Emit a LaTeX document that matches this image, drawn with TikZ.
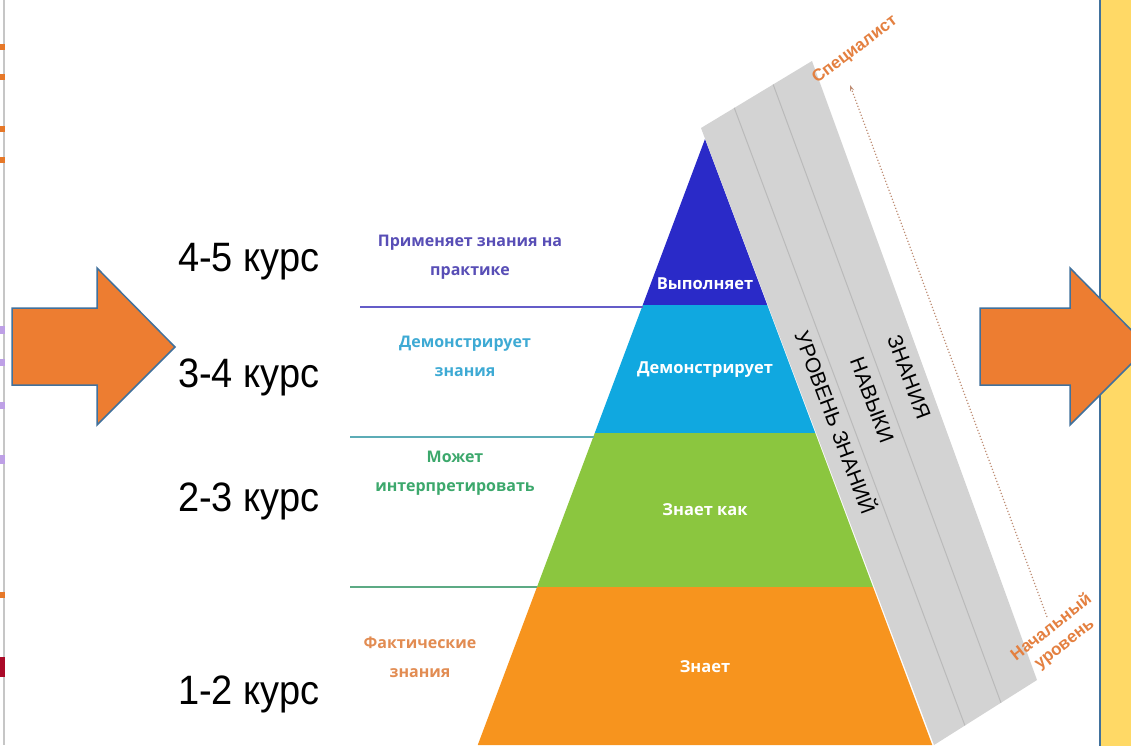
\documentclass[tikz,border=0pt]{standalone}
\usepackage{fontspec}
\setmainfont{Liberation Sans}
\newfontfamily\descfamily{Open Sans}
\usetikzlibrary{positioning, calc, arrows.meta}

\definecolor{arrorange}{RGB}{237,125,49}
\definecolor{arrblue}{RGB}{65,113,156}
\definecolor{panelyellow}{RGB}{255,217,102}
\definecolor{lvlfour}{RGB}{42,42,200}
\definecolor{lvlthree}{RGB}{16,168,224}
\definecolor{lvltwo}{RGB}{139,198,63}
\definecolor{lvlone}{RGB}{247,148,30}
\definecolor{bandgray}{RGB}{211,211,211}
\definecolor{bandline}{RGB}{186,186,186}
\definecolor{descpurple}{RGB}{88,78,182}
\definecolor{descblue}{RGB}{62,170,212}
\definecolor{descgreen}{RGB}{60,168,108}
\definecolor{descorange}{RGB}{226,140,82}
\definecolor{seppurple}{RGB}{100,92,200}
\definecolor{septeal}{RGB}{92,172,182}
\definecolor{sepgreen}{RGB}{92,170,132}
\definecolor{levelorange}{RGB}{228,128,64}
\definecolor{dotbrown}{RGB}{190,140,115}
\definecolor{markorange}{RGB}{230,120,40}
\definecolor{markpurple}{RGB}{190,160,230}
\definecolor{markred}{RGB}{170,10,40}

\begin{document}
\begin{tikzpicture}[x=1pt, y=-1pt,
    course/.style={anchor=base west, inner sep=0pt, yscale=1.08, font=\fontsize{38}{40}\selectfont},
    desc/.style={align=center, inner sep=0pt, font=\descfamily\bfseries\fontsize{16}{29}\selectfont},
    layerlbl/.style={text=white, inner sep=0pt, font=\descfamily\bfseries\fontsize{16.5}{18}\selectfont},
    bandlbl/.style={rotate=-69.4, inner sep=0pt, font=\fontsize{21}{22}\selectfont},
    levellbl/.style={text=levelorange, inner sep=0pt, align=center, font=\bfseries\fontsize{17}{21}\selectfont},
    bigarrow/.style={fill=arrorange, draw=arrblue, line width=1.5pt, line join=miter},
    sepline/.style={line width=1.3pt}]
  \useasboundingbox (0,0) rectangle (1131,745);
  \fill[white] (0,0) rectangle (1131,745);

  % slide edge with thumbnail marks
  \draw[gray!45, line width=1.5pt] (4,0) -- (4,745);
  \foreach \y/\h/\c in {44/6/markorange, 74/6/markorange, 126/6/markorange, 157/6/markorange,
      326/8/markpurple, 359/7/markpurple, 402/7/markpurple, 455/9/markpurple,
      592/6/markorange, 657/20/markred}
    \fill[\c] (0,\y) rectangle (5,\y+\h);

  % pyramid
  \foreach \ytop/\ybot/\col in {139/305/lvlfour, 305/433/lvlthree, 433/587/lvltwo, 587/745/lvlone}
    \fill[\col] ({705-0.375*(\ytop-139)},\ytop) -- ({705+0.375*(\ytop-139)},\ytop)
      -- ({705+0.375*(\ybot-139)},\ybot) -- ({705-0.375*(\ybot-139)},\ybot) -- cycle;
  \node[layerlbl] (vypoln) at (705,284) {Выполняет};
  \node[layerlbl] (demonstr) at (705,370) {Демонстрирует};
  \node[layerlbl] (znaetkak) at (705,510) {Знает как};
  \node[layerlbl] (znaet) at (705,667) {Знает};

  % separators and descriptions
  \draw[sepline, seppurple] (360,307) -- (643,307);
  \draw[sepline, septeal] (350,437) -- (594,437);
  \draw[sepline, sepgreen] (350,587) -- (537,587);
  \node[desc, text=descpurple] (primen) at (470,257) {Применяет знания на\\практике};
  \node[desc, text=descblue] (demznan) at (465,356) {Демонстрирует\\знания};
  \node[desc, text=descgreen] (mozhet) at (455,473) {Может\\интерпретировать};
  \node[desc, text=descorange] (fakt) at (420,657) {Фактические\\знания};

  % courses
  \node[course] (c45) at (178,271) {4-5 курс};
  \node[course] (c34) at (178,387) {3-4 курс};
  \node[course] (c23) at (178,511) {2-3 курс};
  \node[course] (c12) at (178,704) {1-2 курс};

  % tilted band
  \coordinate (bandTL) at (701,128);
  \coordinate (bandTR) at (812,61);
  \coordinate (bandBR) at (1037,680);
  \coordinate (bandBL) at (934,745);
  \fill[bandgray] (bandTL) -- (bandTR) -- (bandBR) -- (bandBL) -- cycle;
  \foreach \f in {0.3,0.65}
    \draw[bandline, line width=1pt] ($(bandTL)!\f!(bandTR)$) -- ($(bandBL)!\f!(bandBR)$);
  \node[bandlbl] (urov) at (837,422) {УРОВЕНЬ ЗНАНИЙ};
  \node[bandlbl] (navyki) at (872,400) {НАВЫКИ};
  \node[bandlbl] (znaniya) at (909,377) {ЗНАНИЯ};

  % from start level to specialist
  \coordinate (dotlow) at (1047,617);
  \coordinate (dottop) at (850,85);
  \draw[dotbrown, dotted, line width=1.2pt, -{Stealth[length=6pt, width=4pt]}] (dotlow) -- (dottop);
  \node[levellbl, rotate=37] (spec) at (855,50) {Специалист};
  \node[levellbl, rotate=38] (start) at (1058,636) {Начальный\\уровень};

  % right panel and arrows
  \filldraw[fill=panelyellow, draw=arrblue, line width=2pt] (1100,-5) rectangle (1140,750);
  \filldraw[bigarrow] (12,308) -- (97,308) -- (97,268) -- (175,347) -- (97,425) -- (97,385) -- (12,385) -- cycle;
  \filldraw[bigarrow] (980,308) -- (1070,308) -- (1070,268) -- (1148,347) -- (1070,425) -- (1070,385) -- (980,385) -- cycle;
\end{tikzpicture}
\end{document}
